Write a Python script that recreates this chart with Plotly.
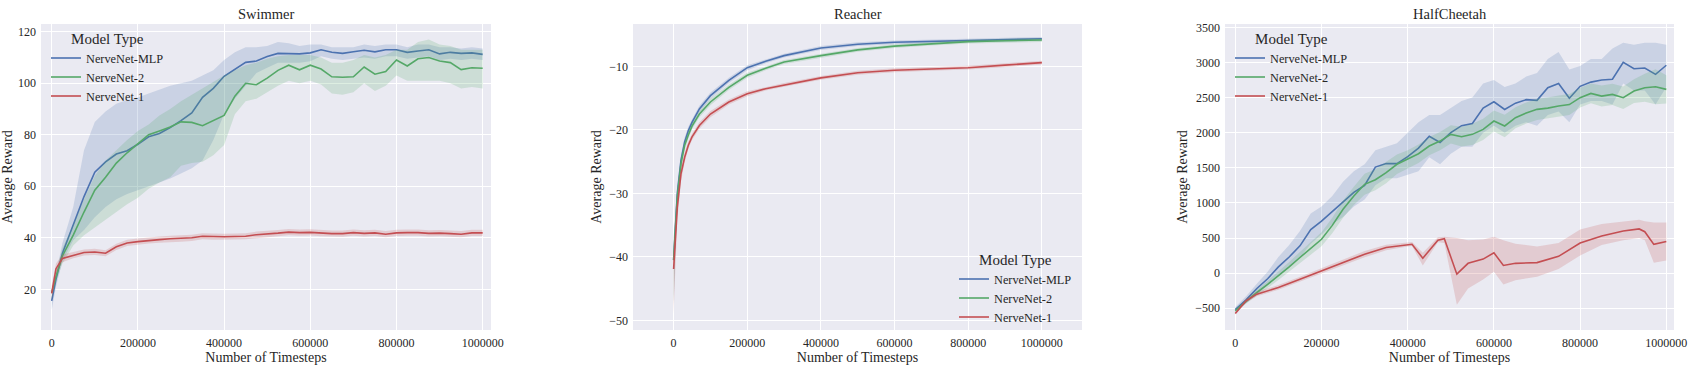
import plotly.graph_objects as go

# ---------------- data ----------------
series_names = ["NerveNet-MLP", "NerveNet-2", "NerveNet-1"]
colors = ["#4C72B0", "#55A868", "#C44E52"]
fills = ["rgba(76,114,176,0.2)", "rgba(85,168,104,0.2)", "rgba(196,78,82,0.2)"]

# Swimmer
sw_x = [0, 10000] + [25000 * i for i in range(1, 41)]
sw_mlp = [15.5, 24, 34, 45, 56, 65.5, 69.5, 72.5, 73.8, 76.3, 79.2, 80.5, 82.8, 85.5, 88.5, 94.5,
          98, 102.7, 105.5, 108.1, 108.6, 110.4, 111.6, 111.4, 111.4, 111.8, 113, 112, 111.6, 112.2,
          112.8, 112.2, 113, 113, 112, 112.5, 113, 111.4, 112, 111.6, 111.8, 111.2]
sw_mlp_hi = [16, 26, 38, 52, 74, 85, 89, 92, 93.5, 94.5, 96, 97.5, 99, 100, 101, 103, 105, 109,
             112, 114, 114, 114.5, 116, 115.5, 114.5, 115, 115, 114, 114, 114, 115, 114.5, 115, 115,
             114, 115, 115, 114, 114, 113.5, 114, 113.5]
sw_mlp_lo = [12, 21, 31, 39, 43, 48, 52, 55, 57, 58.5, 60, 61.5, 63, 65, 67, 70, 78, 88, 94, 99,
             104, 106, 108, 108, 108, 108.5, 110.5, 109.5, 109, 109.5, 110, 109.5, 110.5, 110.5,
             109.5, 110, 110.5, 109, 109.5, 109, 109.5, 109]
sw_nn2 = [18.7, 25, 33, 41, 50, 58.5, 63.5, 69, 73, 76.5, 80, 81.5, 83, 85, 84.8, 83.5, 85.5, 87.5,
          95, 100, 99.4, 102, 105, 107, 105.2, 107, 105.5, 102.5, 102.3, 102.5, 106.3, 103.5, 104.5,
          109, 106.7, 109.5, 110, 108.6, 108, 105.3, 106, 105.8]
sw_nn2_hi = [19, 27, 36, 45, 55, 64, 70, 74, 78, 81.5, 84, 87.5, 90, 93, 95.5, 98, 100.5, 103, 105,
             107, 108, 109.5, 110.5, 111, 111, 111, 110, 108, 108, 109, 111, 110, 111, 113, 113,
             116, 117, 115, 114.5, 113, 113, 113]
sw_nn2_lo = [16, 23, 30, 37, 41, 44, 47, 50, 53, 55.5, 59, 61.5, 63.5, 68, 69, 69.5, 72, 76, 88, 93,
             94, 96.5, 99, 101, 100, 101, 99.5, 96, 95.5, 96.5, 100, 97, 99, 103, 101, 101, 101, 101,
             100, 98, 98.5, 98]
sw_nn1 = [18.4, 28, 32, 33.3, 34.3, 34.5, 34, 36.5, 38, 38.5, 39, 39.3, 39.6, 39.7, 40, 40.6, 40.4,
          40.4, 40.5, 40.6, 41.2, 41.4, 41.8, 42.2, 42, 42.1, 41.8, 41.6, 41.6, 42, 41.7, 41.9, 41.4,
          41.9, 42, 42, 41.7, 41.8, 41.6, 41.4, 41.9, 41.9]
sw_nn1_std = [3, 2, 1.5, 1.2, 1.2, 1.2, 1.2, 1.2, 1.2, 1.2, 1.2, 1.2, 1.2, 1.2, 1.2, 1.2, 1.2, 1.2,
              1.2, 1.2, 1.2, 1.2, 1.2, 1.2, 1.2, 1.2, 1.2, 1.2, 1.2, 1.2, 1.2, 1.2, 1.2, 1.2, 1.2,
              1.2, 1.2, 1.2, 1.2, 1.2, 1.2, 1.2]

# Reacher
re_x = [0, 5000, 10000, 20000, 30000, 40000, 50000, 70000, 100000, 150000, 200000, 250000,
        300000, 400000, 500000, 600000, 700000, 800000, 900000, 1000000]
re_mlp = [-40.5, -34.8, -30, -24.8, -21.9, -20.1, -18.8, -16.7, -14.6, -12.2, -10.2, -9.2, -8.3,
          -7.1, -6.5, -6.2, -6.05, -5.9, -5.75, -5.65]
re_nn2 = [-40.5, -35.5, -30.6, -25.3, -22.4, -20.8, -19.4, -17.5, -15.6, -13.3, -11.4, -10.3, -9.3,
          -8.3, -7.4, -6.8, -6.4, -6.1, -5.95, -5.85]
re_nn1 = [-41.9, -37.4, -32.2, -26.9, -24.3, -22.4, -21.1, -19.3, -17.5, -15.6, -14.3, -13.5,
          -12.9, -11.8, -11, -10.6, -10.4, -10.2, -9.8, -9.4]
re_std_hi = [3.5, 2.0, 1.4, 0.9, 0.7, 0.6, 0.5, 0.5, 0.5, 0.4, 0.4, 0.3, 0.3, 0.3, 0.3, 0.3, 0.3,
             0.3, 0.3, 0.3]
re_std_lo = [7.0, 3.5, 2.0, 1.2, 0.8, 0.6, 0.5, 0.5, 0.5, 0.4, 0.4, 0.3, 0.3, 0.3, 0.3, 0.3, 0.3,
             0.3, 0.3, 0.3]

# HalfCheetah
hc_x = [25000 * i for i in range(0, 41)]
hc_mlp = [-520, -380, -218, -80, 90, 230, 389, 620, 740, 880, 1010, 1150, 1250, 1510, 1560, 1560,
          1660, 1780, 1950, 1860, 2000, 2100, 2130, 2350, 2440, 2330, 2420, 2470, 2460, 2640, 2700,
          2490, 2660, 2720, 2750, 2760, 3000, 2910, 2920, 2830, 2960]
hc_mlp_hi = [-480, -330, -150, 20, 230, 400, 600, 850, 950, 1100, 1300, 1450, 1550, 1750, 1800,
             1850, 2000, 2150, 2250, 2250, 2350, 2450, 2500, 2700, 2750, 2650, 2700, 2800, 2850,
             3050, 3150, 2900, 2950, 3050, 3050, 3200, 3280, 3250, 3280, 3280, 3250]
hc_mlp_lo = [-560, -430, -290, -170, -40, 80, 220, 420, 550, 700, 800, 950, 1050, 1250, 1350, 1350,
             1400, 1450, 1650, 1550, 1700, 1800, 1800, 2000, 2100, 2000, 2100, 2150, 2100, 2250,
             2300, 2150, 2400, 2450, 2450, 2400, 2700, 2600, 2600, 2400, 2650]
hc_nn2 = [-535, -400, -275, -160, -38, 90, 223, 350, 483, 680, 910, 1100, 1265, 1330, 1431, 1550,
          1621, 1700, 1810, 1880, 1976, 1943, 1976, 2047, 2166, 2095, 2213, 2280, 2332, 2350, 2379,
          2400, 2498, 2559, 2521, 2545, 2498, 2592, 2640, 2654, 2616]
hc_nn2_std = [20, 30, 40, 50, 60, 70, 80, 90, 100, 110, 120, 130, 150, 150, 150, 140, 130, 130, 130,
              130, 130, 140, 150, 150, 150, 160, 150, 150, 150, 150, 150, 150, 140, 140, 150, 150,
              160, 170, 200, 250, 200]
hc_nn1_x = [0, 25000, 50000, 100000, 150000, 200000, 250000, 300000, 350000, 400000, 410000,
            435000, 470000, 485000, 514000, 540000, 575000, 600000, 622000, 650000, 700000,
            750000, 800000, 850000, 900000, 937000, 950000, 971000, 1000000]
hc_nn1 = [-573, -393, -299, -204, -85, 33, 152, 270, 365, 410, 412, 213, 470, 490, -14, 140, 200,
          290, 110, 140, 150, 240, 430, 530, 600, 630, 590, 410, 450]
hc_nn1_hi = [-550, -360, -265, -170, -50, 70, 195, 315, 405, 440, 445, 290, 510, 520, 500, 470,
             480, 520, 470, 420, 380, 430, 620, 700, 740, 760, 740, 720, 720]
hc_nn1_lo = [-590, -420, -330, -235, -120, 0, 110, 225, 325, 380, 385, 110, 440, 430, -450, -220,
             -90, 20, -160, -100, -50, 60, 250, 400, 470, 500, 470, 150, 180]

panel_titles = ["Swimmer", "Reacher", "HalfCheetah"]
x_title = "Number of Timesteps"
y_title = "Average Reward"
legend_title = "Model Type"

# ---------------- figure ----------------
W, H = 1697, 373
FONT = "Liberation Serif, Times New Roman, serif"
TXT = "#262626"

fig = go.Figure()

panels = [
    dict(x=[sw_x] * 3, mean=[sw_mlp, sw_nn2, sw_nn1],
         hi=[sw_mlp_hi, sw_nn2_hi, [m + s for m, s in zip(sw_nn1, sw_nn1_std)]],
         lo=[sw_mlp_lo, sw_nn2_lo, [m - s for m, s in zip(sw_nn1, sw_nn1_std)]]),
    dict(x=[re_x] * 3, mean=[re_mlp, re_nn2, re_nn1],
         hi=[[m + s for m, s in zip(v, re_std_hi)] for v in (re_mlp, re_nn2, re_nn1)],
         lo=[[m - s for m, s in zip(v, re_std_lo)] for v in (re_mlp, re_nn2, re_nn1)]),
    dict(x=[hc_x, hc_x, hc_nn1_x], mean=[hc_mlp, hc_nn2, hc_nn1],
         hi=[hc_mlp_hi, [m + s for m, s in zip(hc_nn2, hc_nn2_std)], hc_nn1_hi],
         lo=[hc_mlp_lo, [m - s for m, s in zip(hc_nn2, hc_nn2_std)], hc_nn1_lo]),
]

legend_ids = ["legend", "legend2", "legend3"]
for p, panel in enumerate(panels):
    xa = "x" if p == 0 else f"x{p+1}"
    ya = "y" if p == 0 else f"y{p+1}"
    for k in range(3):
        xs = panel["x"][k]
        fig.add_trace(go.Scatter(
            x=list(xs) + list(xs)[::-1],
            y=list(panel["hi"][k]) + list(panel["lo"][k])[::-1],
            fill="toself", fillcolor=fills[k], line=dict(width=0),
            mode="lines", hoverinfo="skip", showlegend=False, xaxis=xa, yaxis=ya))
        fig.add_trace(go.Scatter(
            x=xs, y=panel["mean"][k], mode="lines", name=series_names[k],
            line=dict(color=colors[k], width=1.6), xaxis=xa, yaxis=ya,
            legend=legend_ids[p], showlegend=True))

def px2x(px):
    return px / W

def px2y(py):
    return 1 - py / H

x_domains = [(41, 491), (633, 1082), (1225, 1674)]
x_ranges = [(-24800, 1019300), (-110300, 1109000), (-23900, 1017800)]
y_ranges = [(4.2, 123), (-51.5, -3.32), (-809, 3547)]
y_ticks = [list(range(20, 121, 20)), list(range(-50, -9, 10)), list(range(-500, 3501, 500))]
ydom = [px2y(330), px2y(24)]

axis_common = dict(showgrid=True, gridcolor="white", gridwidth=1, zeroline=False,
                   showline=False, ticks="", tickfont=dict(family=FONT, size=12, color=TXT),
                   ticklabelstandoff=4, automargin=False)

layout = dict(width=W, height=H, margin=dict(l=0, r=0, t=0, b=0),
              paper_bgcolor="white", plot_bgcolor="#EAEAF2",
              font=dict(family=FONT, color=TXT), showlegend=True)

for p in range(3):
    sx = "" if p == 0 else str(p + 1)
    layout[f"xaxis{sx}"] = dict(axis_common, domain=[px2x(x_domains[p][0]), px2x(x_domains[p][1])],
                                range=list(x_ranges[p]), anchor=f"y{sx}",
                                tickvals=[0, 200000, 400000, 600000, 800000, 1000000],
                                ticktext=["0", "200000", "400000", "600000", "800000", "1000000"],
                                title=dict(text=x_title, font=dict(family=FONT, size=14, color=TXT),
                                           standoff=3))
    layout[f"yaxis{sx}"] = dict(axis_common, domain=ydom, range=list(y_ranges[p]), anchor=f"x{sx}",
                                tickvals=y_ticks[p],
                                title=dict(text=y_title, font=dict(family=FONT, size=14, color=TXT),
                                           standoff=4))

legend_common = dict(bgcolor="rgba(0,0,0,0)", borderwidth=0,
                     font=dict(family=FONT, size=12.3, color=TXT),
                     title=dict(text=legend_title, font=dict(family=FONT, size=15, color=TXT),
                                side="top center"),
                     xanchor="left", yanchor="top", itemwidth=30, tracegroupgap=0)
layout["legend"] = dict(legend_common, x=px2x(46), y=px2y(24))
layout["legend2"] = dict(legend_common, x=px2x(954), y=px2y(245))
layout["legend3"] = dict(legend_common, x=px2x(1230), y=px2y(24))

annotations = []
for p in range(3):
    cx = (x_domains[p][0] + x_domains[p][1]) / 2
    annotations.append(dict(text=panel_titles[p], x=px2x(cx), y=px2y(13.5), xref="paper", yref="paper",
                            showarrow=False, xanchor="center", yanchor="middle",
                            font=dict(family=FONT, size=14.5, color=TXT)))
layout["annotations"] = annotations

fig.update_layout(**layout)
fig.write_html("out.html",
               config={"displayModeBar": False},
               post_script="document.body.style.margin='0px';"
                           "document.documentElement.style.overflow='hidden';")
